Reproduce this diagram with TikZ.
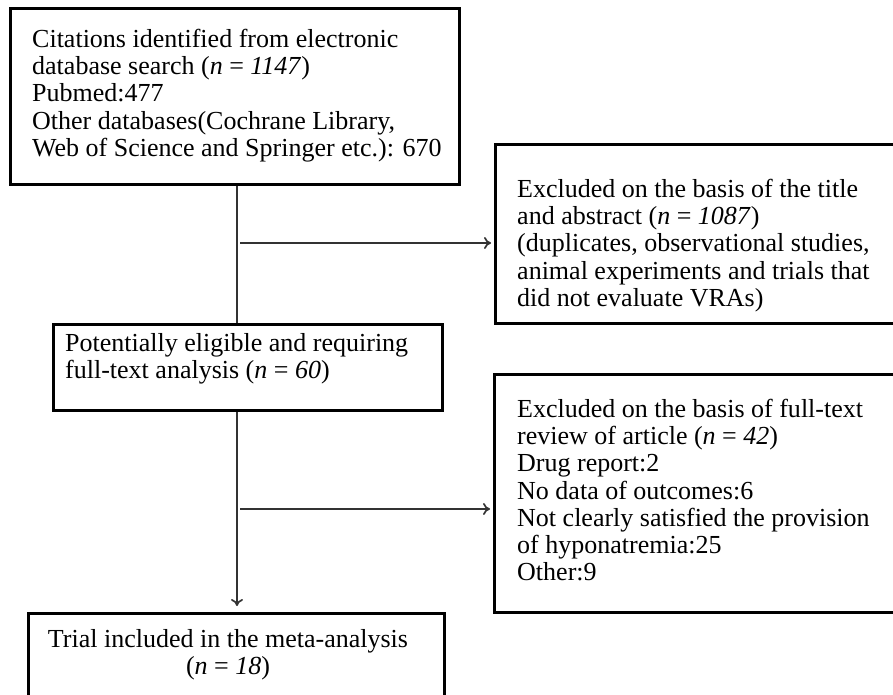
\documentclass[tikz,border=0pt]{standalone}
\usepackage{fontspec}
\setmainfont{Liberation Serif}
\usetikzlibrary{arrows.meta}
\begin{document}
\begin{tikzpicture}[x=1pt,y=-1pt,
  box/.style={draw=black, line width=2.8pt, anchor=north west, inner sep=0pt},
  txt/.style={anchor=north west, inner sep=0pt, align=left, font=\fontsize{26}{27.2}\selectfont},
  conn/.style={draw=black!80, line width=1.7pt},
  arr/.style={conn, -{To[length=7pt,width=12pt]}}]
\useasboundingbox (0,0) rectangle (893,694);
\node[box, minimum width=449pt, minimum height=176pt] (b1) at (9,7) {};
\node[box, minimum width=420pt, minimum height=179pt] (b2) at (494,143) {};
\node[box, minimum width=389pt, minimum height=86pt] (b3) at (52,323) {};
\node[box, minimum width=420pt, minimum height=238pt] (b4) at (493,373) {};
\node[box, minimum width=416pt, minimum height=120pt] (b5) at (27,612) {};
\node[txt] (t1) at (32,29) {Citations identified from electronic\\
database search (\textit{n} = \textit{1147})\\
Pubmed:477\\
Other databases(Cochrane Library,\\
Web of Science and Springer etc.): 670};
\node[txt] (t2) at (517,179) {Excluded on the basis of the title\\
and abstract (\textit{n} = \textit{1087})\\
(duplicates, observational studies,\\
animal experiments and trials that\\
did not evaluate VRAs)};
\node[txt] (t3) at (65,333) {Potentially eligible and requiring\\
full-text analysis (\textit{n} = \textit{60})};
\node[txt] (t4) at (517,399) {Excluded on the basis of full-text\\
review of article (\textit{n} = \textit{42})\\
Drug report:2\\
No data of outcomes:6\\
Not clearly satisfied the provision\\
of hyponatremia:25\\
Other:9};
\node[txt, anchor=north, align=center] (t5) at (228,629) {Trial included in the meta-analysis\\
(\textit{n} = \textit{18})};
\coordinate (sp) at (237,0);
\coordinate (a1) at (240,243);
\coordinate (a2) at (240,509);
\draw[conn] (b1.south -| sp) -- (b3.north -| sp);
\draw[arr, shorten >=3pt] (a1) -- (a1 -| b2.west);
\draw[arr, shorten >=3pt] (a2) -- (a2 -| b4.west);
\draw[arr, shorten >=6pt] (b3.south -| sp) -- (b5.north -| sp);
\end{tikzpicture}
\end{document}
